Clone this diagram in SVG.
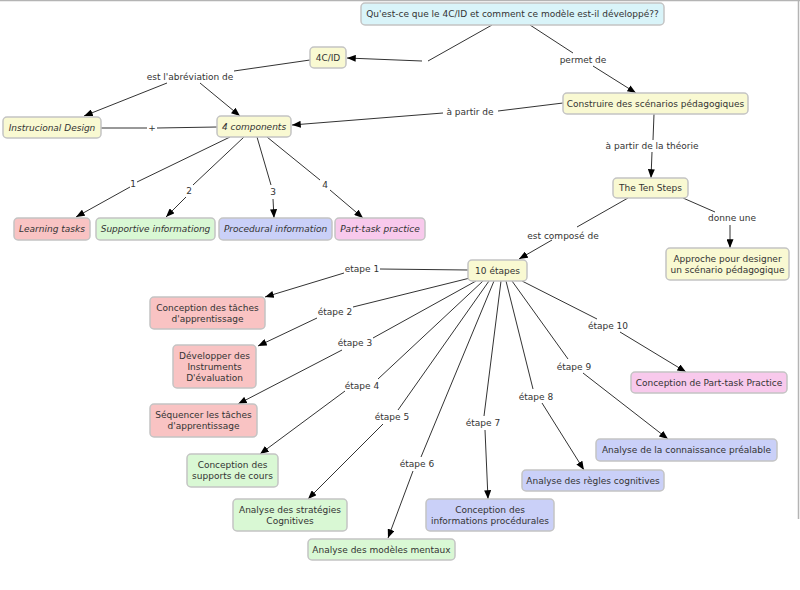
<svg xmlns="http://www.w3.org/2000/svg" width="800" height="590" viewBox="0 0 800 590">
<style>
.n rect{stroke:#c4c4c4;stroke-width:1.5}
.y rect{fill:#f9f9d2}
.c rect{fill:#d9f4f9}
.p rect{fill:#f9c3c3}
.g rect{fill:#d9f8d4}
.b rect{fill:#cad0f8}
.m rect{fill:#f8c9ec}
text{font-family:"DejaVu Sans",Verdana,sans-serif;font-size:9px;fill:#333;text-anchor:middle}
.i text{font-style:italic}
.cn line{stroke:#333;stroke-width:1}
.cn .a{marker-end:url(#ah)}
.lb text{fill:#333}
</style>
<defs>
<marker id="ah" viewBox="0 0 10 8" refX="10" refY="4" markerWidth="9" markerHeight="7" markerUnits="userSpaceOnUse" orient="auto">
<path d="M0,0 L10,4 L0,8 z" fill="#000"/>
</marker>
</defs>
<rect x="0" y="0" width="800" height="590" fill="#fff"/>
<line x1="0" y1="0.5" x2="800" y2="0.5" stroke="#b4b4b4" stroke-width="1.5"/>
<line x1="798.5" y1="0" x2="798.5" y2="519" stroke="#b4b4b4" stroke-width="1.5"/>

<g id="connectors" class="cn">
<line x1="492" y1="25" x2="428" y2="61"/>
<line class="a" x1="422" y1="61" x2="347" y2="58"/>
<line x1="530" y1="25" x2="573" y2="53"/>
<line class="a" x1="593" y1="66" x2="636" y2="93"/>
<line x1="563" y1="103" x2="498" y2="111"/>
<line class="a" x1="443" y1="113" x2="292" y2="125"/>
<line x1="310" y1="60" x2="234" y2="71"/>
<line class="a" x1="167" y1="83" x2="84" y2="116"/>
<line class="a" x1="200" y1="83" x2="240" y2="116"/>
<line x1="101" y1="128" x2="147" y2="128"/>
<line x1="157" y1="128" x2="217" y2="127"/>
<line x1="230" y1="137" x2="137" y2="182"/>
<line class="a" x1="130" y1="187" x2="76" y2="217"/>
<line x1="244" y1="137" x2="193" y2="185"/>
<line class="a" x1="186" y1="197" x2="166" y2="217"/>
<line x1="257" y1="137" x2="271" y2="185"/>
<line class="a" x1="273" y1="199" x2="274" y2="218"/>
<line x1="267" y1="137" x2="320" y2="180"/>
<line class="a" x1="330" y1="190" x2="363" y2="218"/>
<line x1="654" y1="114" x2="653" y2="140"/>
<line class="a" x1="652" y1="152" x2="651" y2="178"/>
<line x1="628" y1="198" x2="577" y2="227"/>
<line class="a" x1="552" y1="240" x2="519" y2="259"/>
<line x1="683" y1="198" x2="715" y2="212"/>
<line class="a" x1="730" y1="225" x2="730" y2="248"/>
<line x1="468" y1="270" x2="380" y2="269"/>
<line class="a" x1="344" y1="273" x2="265" y2="297"/>
<line x1="470" y1="278" x2="353" y2="307"/>
<line class="a" x1="317" y1="318" x2="258" y2="346"/>
<line x1="476" y1="281" x2="373" y2="338"/>
<line class="a" x1="342" y1="350" x2="238" y2="404"/>
<line x1="483" y1="281" x2="378" y2="379"/>
<line class="a" x1="345" y1="391" x2="260" y2="454"/>
<line x1="489" y1="281" x2="398" y2="410"/>
<line class="a" x1="383" y1="424" x2="308" y2="499"/>
<line x1="494" y1="281" x2="421" y2="457"/>
<line class="a" x1="413" y1="471" x2="388" y2="538"/>
<line x1="501" y1="281" x2="484" y2="416"/>
<line class="a" x1="485" y1="430" x2="488" y2="499"/>
<line x1="506" y1="281" x2="533" y2="389"/>
<line class="a" x1="542" y1="403" x2="584" y2="470"/>
<line x1="512" y1="281" x2="568" y2="359"/>
<line class="a" x1="583" y1="373" x2="668" y2="439"/>
<line x1="522" y1="281" x2="597" y2="319"/>
<line class="a" x1="620" y1="332" x2="686" y2="372"/>
</g>

<g id="labels" class="lb">
<text x="583" y="63">permet de</text>
<text x="470" y="115">à partir de</text>
<text x="190" y="80">est l'abréviation de</text>
<text x="152" y="131">+</text>
<text x="133" y="187">1</text>
<text x="189" y="194">2</text>
<text x="273" y="195">3</text>
<text x="325" y="188">4</text>
<text x="652" y="149">à partir de la théorie</text>
<text x="563" y="239">est composé de</text>
<text x="732" y="221">donne une</text>
<text x="362" y="272">etape 1</text>
<text x="335" y="315">étape 2</text>
<text x="355" y="346">étape 3</text>
<text x="362" y="389">étape 4</text>
<text x="392" y="420">étape 5</text>
<text x="417" y="467">étape 6</text>
<text x="483" y="426">étape 7</text>
<text x="536" y="400">étape 8</text>
<text x="574" y="370">étape 9</text>
<text x="608" y="329">étape 10</text>
</g>

<g id="n-question" class="n c"><rect x="361" y="3" width="303" height="22" rx="4"/><text x="512.5" y="17">Qu'est-ce que le 4C/ID et comment ce modèle est-il développé??</text></g>
<g id="n-4cid" class="n y"><rect x="310" y="47" width="36" height="21" rx="4"/><text x="328" y="60.5">4C/ID</text></g>
<g id="n-construire" class="n y"><rect x="563" y="93" width="185" height="21" rx="4"/><text x="655.5" y="106.5">Construire des scénarios pédagogiques</text></g>
<g id="n-4components" class="n y i"><rect x="217" y="116" width="74" height="21" rx="4"/><text x="254" y="129.5">4 components</text></g>
<g id="n-instrucional" class="n y i"><rect x="3" y="117" width="98" height="21" rx="4"/><text x="52" y="130.5">Instrucional Design</text></g>
<g id="n-learning" class="n p i"><rect x="14" y="218" width="76" height="22" rx="4"/><text x="52" y="232">Learning tasks</text></g>
<g id="n-supportive" class="n g i"><rect x="96" y="218" width="119" height="22" rx="4"/><text x="155.5" y="232">Supportive informationg</text></g>
<g id="n-procedural" class="n b i"><rect x="219" y="218" width="113" height="22" rx="4"/><text x="275.5" y="232">Procedural information</text></g>
<g id="n-parttask" class="n m i"><rect x="335" y="218" width="90" height="22" rx="4"/><text x="380" y="232">Part-task practice</text></g>
<g id="n-tensteps" class="n y"><rect x="613" y="178" width="75" height="20" rx="4"/><text x="650.5" y="191">The Ten Steps</text></g>
<g id="n-approche" class="n y"><rect x="666" y="248" width="123" height="32" rx="4"/><text x="727.5" y="262">Approche pour designer</text><text x="727.5" y="273">un scénario pédagogique</text></g>
<g id="n-10etapes" class="n y"><rect x="468" y="260" width="59" height="21" rx="4"/><text x="497.5" y="273.5">10 étapes</text></g>
<g id="n-e1" class="n p"><rect x="150" y="297" width="115" height="32" rx="4"/><text x="207.5" y="311">Conception des tâches</text><text x="207.5" y="322">d'apprentissage</text></g>
<g id="n-e2" class="n p"><rect x="173" y="345" width="83" height="43" rx="4"/><text x="214.5" y="359">Développer des</text><text x="214.5" y="370">Instruments</text><text x="214.5" y="381">D'évaluation</text></g>
<g id="n-e3" class="n p"><rect x="150" y="404" width="107" height="33" rx="4"/><text x="203.5" y="418">Séquencer les tâches</text><text x="203.5" y="429">d'apprentissage</text></g>
<g id="n-e4" class="n g"><rect x="187" y="454" width="91" height="33" rx="4"/><text x="232.5" y="468">Conception des</text><text x="232.5" y="479">supports de cours</text></g>
<g id="n-e5" class="n g"><rect x="233" y="499" width="114" height="32" rx="4"/><text x="290" y="513">Analyse des stratégies</text><text x="290" y="524">Cognitives</text></g>
<g id="n-e6" class="n g"><rect x="308" y="539" width="147" height="21" rx="4"/><text x="381.5" y="552.5">Analyse des modèles mentaux</text></g>
<g id="n-e7" class="n b"><rect x="426" y="499" width="128" height="32" rx="4"/><text x="490" y="513">Conception des</text><text x="490" y="524">informations procédurales</text></g>
<g id="n-e8" class="n b"><rect x="522" y="470" width="142" height="21" rx="4"/><text x="593" y="483.5">Analyse des règles cognitives</text></g>
<g id="n-e9" class="n b"><rect x="596" y="439" width="181" height="22" rx="4"/><text x="686.5" y="453">Analyse de la connaissance préalable</text></g>
<g id="n-e10" class="n m"><rect x="631" y="372" width="156" height="21" rx="4"/><text x="709" y="385.5">Conception de Part-task Practice</text></g>
</svg>
